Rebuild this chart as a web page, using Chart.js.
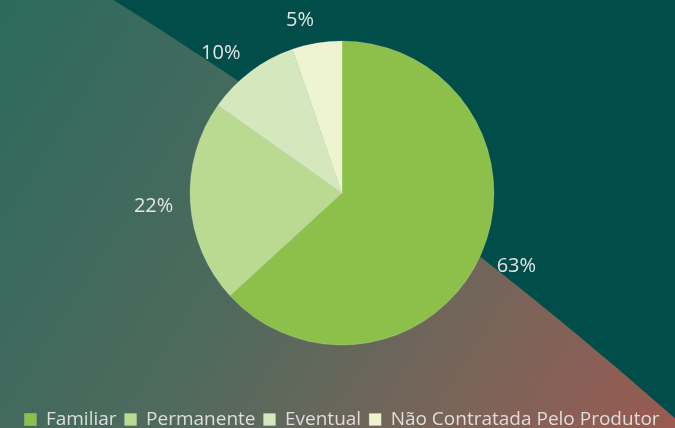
<!DOCTYPE html>
<html>
<head>
<meta charset="utf-8">
<script src="https://cdn.jsdelivr.net/npm/chart.js@4/dist/chart.umd.min.js"></script>
<style>
  html, body { margin: 0; padding: 0; background: #004d4a; }
  #wrap { width: 675px; height: 428px; position: relative; overflow: hidden; }
  #pieChart { position: absolute; left: 0; top: -16px; }
</style>
</head>
<body>
<div id="wrap"><canvas id="pieChart" width="675" height="444"></canvas></div>
<script>
// values
const categories = ['Familiar', 'Permanente', 'Eventual', 'Não Contratada Pelo Produtor'];
const shares = [63.2, 21.6, 9.9, 5.3];
const shareLabels = ['63%', '22%', '10%', '5%'];
const sliceColors = ['#8dc04b', '#b9da90', '#d5e7bc', '#eff4d0'];

const shiftY = 16; // canvas sits 16px above the page top

// background: dark teal with a big round gradient shape from the lower left
const backdrop = {
  id: 'backdrop',
  beforeDraw(chart) {
    const c = chart.ctx;
    const w = chart.width, h = chart.height;
    c.save();
    c.fillStyle = '#004d4a';
    c.fillRect(0, 0, w, h);
    const g = c.createLinearGradient(0, shiftY, w, h);
    g.addColorStop(0, '#2c6a5d');
    g.addColorStop(0.45, '#4f6a5d');
    g.addColorStop(0.75, '#7a6459');
    g.addColorStop(1, '#9a5a52');
    c.beginPath();
    c.arc(-2165, 3643 + shiftY, 4297, 0, Math.PI * 2);
    c.fillStyle = g;
    c.fill();
    c.restore();
  }
};

// percent labels just outside each slice
const outLabels = {
  id: 'outLabels',
  afterDatasetsDraw(chart) {
    const c = chart.ctx;
    const meta = chart.getDatasetMeta(0);
    c.save();
    c.font = '20px "Open Sans"';
    c.fillStyle = '#e4e4e4';
    c.textBaseline = 'middle';
    meta.data.forEach((arc, i) => {
      const p = arc.getProps(['x', 'y', 'startAngle', 'endAngle', 'outerRadius'], true);
      const mid = (p.startAngle + p.endAngle) / 2;
      const r = p.outerRadius + 17;
      const ax = p.x + Math.cos(mid) * r;
      const ay = p.y + Math.sin(mid) * r;
      c.textAlign = Math.cos(mid) >= 0 ? 'left' : 'right';
      c.fillText(shareLabels[i], ax, ay + Math.sin(mid) * 8 + 2);
    });
    c.restore();
  }
};

const ctx = document.getElementById('pieChart').getContext('2d');
const pieChart = new Chart(ctx, {
  type: 'pie',
  data: {
    labels: categories,
    datasets: [{
      data: shares,
      backgroundColor: sliceColors,
      borderColor: 'rgba(255,255,255,0.35)',
      borderWidth: 0.5,
      radius: 152
    }]
  },
  options: {
    responsive: false,
    animation: false,
    layout: { padding: { left: 9, top: 0, bottom: -11 } },
    plugins: {
      tooltip: { enabled: false },
      legend: {
        position: 'bottom',
        labels: {
          color: '#dedede',
          font: { family: 'Open Sans', size: 19 },
          boxWidth: 12,
          boxHeight: 12,
          padding: 8
        }
      }
    }
  },
  plugins: [backdrop, outLabels]
});
</script>
</body>
</html>
